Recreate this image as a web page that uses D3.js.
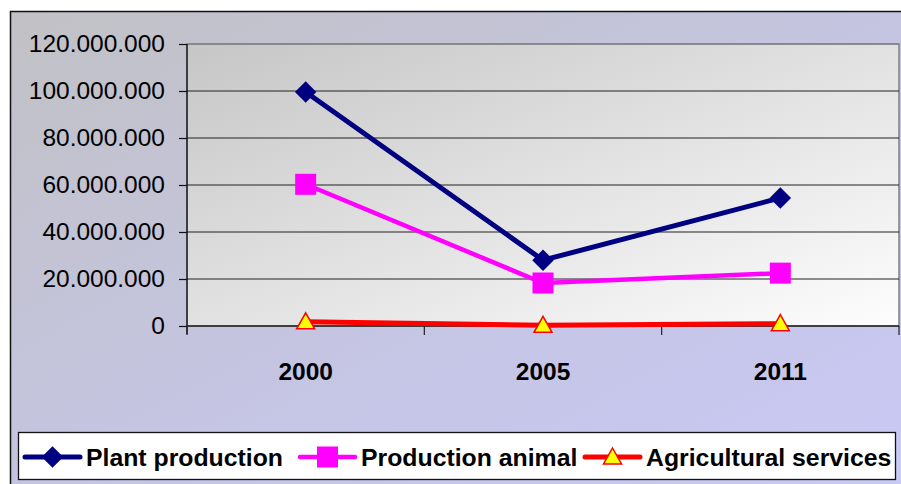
<!DOCTYPE html>
<html>
<head>
<meta charset="utf-8">
<script src="https://cdn.jsdelivr.net/npm/d3@7"></script>
<style>
  body { margin: 0; background: #fff; }
  svg { display: block; font-family: "Liberation Sans", Arial, sans-serif; }
</style>
</head>
<body>
<script>
// categories, series and tick values
var years = ["2000", "2005", "2011"];
var plantProduction = [99600000, 28000000, 54500000];
var productionAnimal = [60300000, 18300000, 22500000];
var agriServices = [1800000, 300000, 1000000];
var yTicks = [0, 20000000, 40000000, 60000000, 80000000, 100000000, 120000000];
var seriesNames = ["Plant production", "Production animal", "Agricultural services"];

window.onload = function(){

	var w = 901, h = 484;
	var plot = {left: 187, right: 899, top: 44, bottom: 326};

	var svg = d3.select("body").append("svg")
		.attr("width", w)
		.attr("height", h);

	var defs = svg.append("defs");
	// background gradient (grey -> lavender)
	var bg = defs.append("linearGradient").attr("id", "bgGrad")
		.attr("x1", 0).attr("y1", 0).attr("x2", 1).attr("y2", 1);
	bg.append("stop").attr("offset", "0%").attr("stop-color", "#c1c1c5");
	bg.append("stop").attr("offset", "55%").attr("stop-color", "#c5c5e4");
	bg.append("stop").attr("offset", "100%").attr("stop-color", "#c9c9f6");
	// plot area gradient (grey -> white)
	var pg = defs.append("linearGradient").attr("id", "plotGrad")
		.attr("x1", 0).attr("y1", 0).attr("x2", 1).attr("y2", 1);
	pg.append("stop").attr("offset", "0%").attr("stop-color", "#c6c6c6");
	pg.append("stop").attr("offset", "100%").attr("stop-color", "#fdfdfd");

	// chart area
	svg.append("rect")
		.attr("x", 10.5).attr("y", 11.5)
		.attr("width", 900).attr("height", 480)
		.style("fill", "url(#bgGrad)")
		.style("stroke", "#111")
		.style("stroke-width", 1.5);

	// plot area
	svg.append("rect")
		.attr("x", plot.left).attr("y", plot.top)
		.attr("width", plot.right - plot.left).attr("height", plot.bottom - plot.top)
		.style("fill", "url(#plotGrad)")
		.style("stroke", "#808080")
		.style("stroke-width", 1.5);

	var x = d3.scaleBand()
		.domain(years)
		.range([plot.left, plot.right]);

	var y = d3.scaleLinear()
		.domain([0, 120000000])
		.range([plot.bottom, plot.top]);

	var locale = d3.formatLocale({decimal: ",", thousands: ".", grouping: [3], currency: ["", ""]});
	var fmt = locale.format(",");

	// gridlines
	svg.append("g").selectAll("line")
		.data(yTicks.filter(function(d){ return d > 0; }))
		.enter().append("line")
		.attr("x1", plot.left).attr("x2", plot.right)
		.attr("y1", function(d){ return y(d); })
		.attr("y2", function(d){ return y(d); })
		.style("stroke", function(d){ return d == 120000000 ? "#808080" : "#222"; })
		.style("stroke-width", 1.2);

	// y axis
	var yAxis = svg.append("g")
		.attr("transform", "translate(" + plot.left + ",0)")
		.call(d3.axisLeft(y).tickValues(yTicks).tickFormat(fmt).tickSize(8).tickPadding(14));
	yAxis.select(".domain").attr("d", "M0," + (plot.top) + "V" + (plot.bottom + 8)).style("stroke", "#111").style("stroke-width", 1.3);
	yAxis.selectAll(".tick line").style("stroke", "#111").style("stroke-width", 1.2);
	yAxis.selectAll(".tick text")
		.style("font-size", "24.5px")
		.style("font-family", "Liberation Sans, Arial, sans-serif")
		.style("fill", "#000");

	// x axis line + ticks at band boundaries
	svg.append("line")
		.attr("x1", plot.left).attr("x2", plot.right)
		.attr("y1", plot.bottom).attr("y2", plot.bottom)
		.style("stroke", "#222").style("stroke-width", 1.5);
	var bounds = years.map(function(d){ return x(d); }).concat([x(years[years.length - 1]) + x.bandwidth()]);
	svg.append("g").selectAll("line")
		.data(bounds)
		.enter().append("line")
		.attr("x1", function(d){ return d; }).attr("x2", function(d){ return d; })
		.attr("y1", plot.bottom).attr("y2", plot.bottom + 9)
		.style("stroke", "#222").style("stroke-width", 1.2);

	var xAxis = svg.append("g")
		.attr("transform", "translate(0," + plot.bottom + ")")
		.call(d3.axisBottom(x).tickSize(0).tickPadding(37));
	xAxis.select(".domain").remove();
	xAxis.selectAll(".tick text")
		.style("font-size", "24.5px")
		.style("font-weight", "bold")
		.style("font-family", "Liberation Sans, Arial, sans-serif")
		.style("fill", "#000");

	var cx = function(i){ return x(years[i]) + x.bandwidth() / 2; };
	var line = d3.line()
		.x(function(d, i){ return cx(i); })
		.y(function(d){ return y(d); });

	var series = [
		{name: seriesNames[0], values: plantProduction, color: "#000080", width: 5, marker: "diamond"},
		{name: seriesNames[1], values: productionAnimal, color: "#ff00ff", width: 4.5, marker: "square"},
		{name: seriesNames[2], values: agriServices, color: "#ff0000", width: 5, marker: "triangle"}
	];

	function drawMarker(g, type, color, px, py){
		if (type == "diamond") {
			g.append("path")
				.attr("d", d3.symbol().type(d3.symbolSquare).size(230)())
				.attr("transform", "translate(" + px + "," + py + ") rotate(45)")
				.style("fill", color);
		} else if (type == "square") {
			g.append("rect")
				.attr("x", px - 10.5).attr("y", py - 10.5)
				.attr("width", 21).attr("height", 21)
				.style("fill", color);
		} else {
			g.append("path")
				.attr("d", "M0,-9L9,7L-9,7Z")
				.attr("transform", "translate(" + px + "," + py + ")")
				.style("fill", "#ffff00")
				.style("stroke", "#ff0000")
				.style("stroke-width", 1.5);
		}
	}

	// draw in reverse so plant production ends up on top
	series.slice().reverse().forEach(function(s){
		svg.append("path")
			.datum(s.values)
			.attr("d", line)
			.style("fill", "none")
			.style("stroke", s.color)
			.style("stroke-width", s.width)
			.style("stroke-linejoin", "round");
		var g = svg.append("g");
		s.values.forEach(function(v, i){
			drawMarker(g, s.marker, s.color, cx(i), y(v));
		});
	});

	// legend
	svg.append("rect")
		.attr("x", 18.5).attr("y", 432.5)
		.attr("width", 877).attr("height", 47)
		.style("fill", "#fff")
		.style("stroke", "#111")
		.style("stroke-width", 1.3);

	var legendX = [25, 300, 585];
	series.forEach(function(s, i){
		var lg = svg.append("g");
		lg.append("line")
			.attr("x1", legendX[i]).attr("x2", legendX[i] + 55)
			.attr("y1", 457).attr("y2", 457)
			.style("stroke", s.color)
			.style("stroke-width", s.width)
			.style("stroke-linecap", "round");
		drawMarker(lg, s.marker, s.color, legendX[i] + 27.5, 457);
		lg.append("text")
			.attr("x", legendX[i] + 61)
			.attr("y", 466)
			.style("font-size", "24.8px")
			.style("font-weight", "bold")
			.text(s.name);
	});
};
</script>
</body>
</html>
